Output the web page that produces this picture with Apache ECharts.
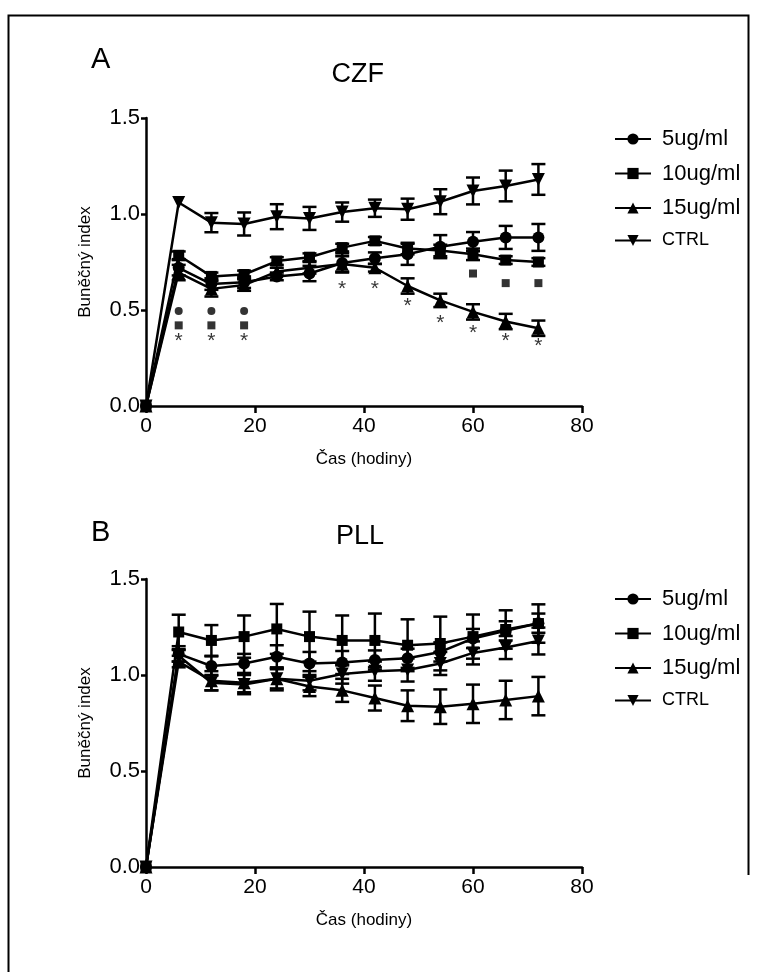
<!DOCTYPE html>
<html>
<head>
<meta charset="utf-8">
<script src="https://cdn.jsdelivr.net/npm/echarts@6/dist/echarts.min.js"></script>
<style>
  html, body { margin: 0; padding: 0; background: #fff; }
  #chart-container { width: 768px; height: 972px; }
</style>
</head>
<body>
<div id="chart-container"></div>
<script>
// casy mereni (hodiny)
var hours = [0, 6, 12, 18, 24, 30, 36, 42, 48, 54, 60, 66, 72];
var seriesNames = ['5ug/ml', '10ug/ml', '15ug/ml', 'CTRL'];
var xTicks = [0, 20, 40, 60, 80];
var yTicks = [0, 0.5, 1.0, 1.5];

// A - CZF
var czf5 = [0, 0.72, 0.635, 0.645, 0.675, 0.69, 0.745, 0.77, 0.79, 0.83, 0.856, 0.878, 0.878];
var czf10 = [0, 0.785, 0.675, 0.685, 0.755, 0.775, 0.825, 0.86, 0.82, 0.81, 0.79, 0.76, 0.75];
var czf15 = [0, 0.695, 0.61, 0.63, 0.70, 0.72, 0.74, 0.72, 0.625, 0.55, 0.49, 0.44, 0.405];
var czfCtrl = [0, 1.06, 0.955, 0.948, 0.986, 0.977, 1.01, 1.03, 1.025, 1.064, 1.12, 1.146, 1.18];
var czf5Err = [0, 0.04, 0.03, 0.03, 0.02, 0.04, 0.05, 0.03, 0.055, 0.06, 0.05, 0.06, 0.07];
var czf10Err = [0, 0.02, 0.02, 0.02, 0.02, 0.02, 0.02, 0.02, 0.03, 0.03, 0.03, 0.02, 0.02];
var czf15Err = [0, 0.04, 0.04, 0.03, 0.02, 0.03, 0.04, 0.02, 0.04, 0.035, 0.04, 0.04, 0.04];
var czfCtrlErr = [0, 0, 0.05, 0.06, 0.065, 0.06, 0.05, 0.045, 0.055, 0.065, 0.07, 0.08, 0.08];

// znacky signifikance (A)
var sigDotX = [6, 12, 18];
var sigDotY = [0.495, 0.495, 0.495];
var sigSquareX = [6, 12, 18, 60, 66, 72];
var sigSquareY = [0.42, 0.42, 0.42, 0.69, 0.64, 0.64];
var sigStarX = [6, 12, 18, 36, 42, 48, 54, 60, 66, 72];
var sigStarY = [0.36, 0.36, 0.36, 0.63, 0.63, 0.54, 0.45, 0.40, 0.36, 0.33];

// B - PLL
var pll5 = [0, 1.11, 1.047, 1.06, 1.095, 1.06, 1.065, 1.078, 1.087, 1.12, 1.19, 1.23, 1.27];
var pll10 = [0, 1.224, 1.18, 1.20, 1.24, 1.20, 1.18, 1.18, 1.155, 1.164, 1.20, 1.237, 1.268];
var pll15 = [0, 1.07, 0.97, 0.96, 0.98, 0.94, 0.92, 0.88, 0.84, 0.835, 0.85, 0.87, 0.89];
var pllCtrl = [0, 1.10, 0.96, 0.95, 0.98, 0.97, 1.005, 1.02, 1.026, 1.06, 1.115, 1.143, 1.177];
var pll5Err = [0, 0.04, 0.05, 0.05, 0.06, 0.06, 0.06, 0.05, 0.05, 0.05, 0.05, 0.05, 0.05];
var pll10Err = [0, 0.09, 0.08, 0.11, 0.13, 0.13, 0.13, 0.14, 0.135, 0.14, 0.115, 0.1, 0.1];
var pll15Err = [0, 0.03, 0.05, 0.05, 0.05, 0.05, 0.06, 0.065, 0.08, 0.09, 0.1, 0.1, 0.1];
var pllCtrlErr = [0, 0.03, 0.04, 0.05, 0.06, 0.05, 0.05, 0.05, 0.06, 0.06, 0.06, 0.06, 0.07];

var FONT = 'Liberation Sans, Arial, sans-serif';
var symbols = ['circle', 'rect', 'triangle', 'triangle'];
var rotations = [0, 0, 0, 180];
var sizes = [12, 11, 13, 13];

var dom = document.getElementById('chart-container');
var myChart = echarts.init(dom, null, { renderer: 'canvas' });

function pairs(xs, ys) {
  return xs.map(function (x, i) { return [x, ys[i]]; });
}

function errData(means, errs) {
  var out = [];
  hours.forEach(function (h, i) {
    if (errs[i] > 0) out.push([h, means[i] - errs[i], means[i] + errs[i]]);
  });
  return out;
}

function renderErr(params, api) {
  var x = api.value(0);
  var top = api.coord([x, api.value(2)]);
  var bot = api.coord([x, api.value(1)]);
  var w = 7;
  var st = { stroke: '#000', lineWidth: 2.5 };
  return {
    type: 'group',
    children: [
      { type: 'line', shape: { x1: top[0], y1: top[1], x2: bot[0], y2: bot[1] }, style: st },
      { type: 'line', shape: { x1: top[0] - w, y1: top[1], x2: top[0] + w, y2: top[1] }, style: st },
      { type: 'line', shape: { x1: bot[0] - w, y1: bot[1], x2: bot[0] + w, y2: bot[1] }, style: st }
    ]
  };
}

function lineSeries(idx, name, values) {
  var k = seriesNames.indexOf(name);
  return {
    name: name,
    type: 'line',
    xAxisIndex: idx,
    yAxisIndex: idx,
    data: pairs(hours, values),
    symbol: symbols[k],
    symbolRotate: rotations[k],
    symbolSize: sizes[k],
    showAllSymbol: true,
    color: '#000',
    lineStyle: { color: '#000', width: 2.5 },
    itemStyle: { color: '#000' },
    animation: false,
    z: 3
  };
}

// chybove useky - bez jmena, aby nezasahovaly do legendy
function errSeries(idx, values, errs) {
  return {
    type: 'custom',
    xAxisIndex: idx,
    yAxisIndex: idx,
    data: errData(values, errs),
    renderItem: renderErr,
    encode: { x: 0, y: [1, 2] },
    itemStyle: { color: '#000' },
    silent: true,
    animation: false,
    z: 2
  };
}

function sigSeries(xs, ys, symbol, size, isStar) {
  return {
    type: 'scatter',
    xAxisIndex: 0,
    yAxisIndex: 0,
    data: pairs(xs, ys),
    symbol: symbol,
    symbolSize: isStar ? 1 : size,
    itemStyle: { color: isStar ? 'rgba(0,0,0,0)' : '#000' },
    label: isStar ? {
      show: true,
      position: 'inside',
      formatter: '*',
      color: '#000',
      fontSize: 21,
      fontFamily: FONT,
      offset: [0, 4]
    } : { show: false },
    silent: true,
    animation: false,
    z: 4
  };
}

function makeGrid(top) {
  return { left: 146, width: 436, top: top, height: 288 };
}

function makeX(idx) {
  return {
    type: 'value',
    gridIndex: idx,
    min: xTicks[0],
    max: xTicks[xTicks.length - 1],
    interval: 20,
    name: 'Čas (hodiny)',
    nameLocation: 'middle',
    nameGap: 45,
    nameTextStyle: { color: '#000', fontSize: 17, fontFamily: FONT },
    axisLine: { lineStyle: { color: '#000', width: 2.5 } },
    axisTick: { length: 7, lineStyle: { color: '#000', width: 2.5 } },
    axisLabel: { color: '#000', fontSize: 21, fontFamily: FONT, margin: 10 },
    splitLine: { show: false }
  };
}

function makeY(idx) {
  return {
    type: 'value',
    gridIndex: idx,
    min: yTicks[0],
    max: yTicks[yTicks.length - 1],
    interval: 0.5,
    name: 'Buněčný index',
    nameLocation: 'middle',
    nameRotate: 90,
    nameGap: 52,
    nameTextStyle: { color: '#000', fontSize: 17, fontFamily: FONT },
    axisLine: { show: true, lineStyle: { color: '#000', width: 2.5 } },
    axisTick: { show: true, length: 5, lineStyle: { color: '#000', width: 2.5 } },
    axisLabel: {
      color: '#000', fontSize: 22, fontFamily: FONT, margin: 6,
      formatter: function (v) { return v.toFixed(1); }
    },
    splitLine: { show: false }
  };
}

function makeLegend(top) {
  return {
    orient: 'vertical',
    left: 609,
    top: top,
    data: seriesNames,
    itemWidth: 36,
    itemHeight: 14,
    itemGap: 12.5,
    selectedMode: false,
    formatter: function (name) {
      return name === 'CTRL' ? '{s|' + name + '}' : '{b|' + name + '}';
    },
    textStyle: {
      color: '#000',
      fontFamily: FONT,
      padding: [0, 0, 0, 6],
      rich: {
        b: { fontSize: 22, fontFamily: FONT, color: '#000', lineHeight: 25 },
        s: { fontSize: 18, fontFamily: FONT, color: '#000', lineHeight: 25 }
      }
    }
  };
}

var titleStyle = { color: '#000', fontFamily: FONT, fontWeight: 'normal' };

var option = {
  backgroundColor: '#fff',
  animation: false,
  title: [
    { text: 'A', left: 86, top: 40, textStyle: Object.assign({ fontSize: 29 }, titleStyle) },
    { text: 'CZF', left: 'center', top: 56, textStyle: Object.assign({ fontSize: 27 }, titleStyle), textAlign: 'center' },
    { text: 'B', left: 86, top: 513, textStyle: Object.assign({ fontSize: 29 }, titleStyle) },
    { text: 'PLL', left: 'center', top: 518, textStyle: Object.assign({ fontSize: 27 }, titleStyle), textAlign: 'center' }
  ],
  graphic: [
    {
      type: 'polyline',
      shape: { points: [[8.5, 972], [8.5, 15.5], [748.5, 15.5], [748.5, 875]] },
      style: { stroke: '#000', lineWidth: 2, fill: null },
      silent: true
    }
  ],
  legend: [makeLegend(123), makeLegend(583)],
  grid: [makeGrid(118), makeGrid(579)],
  xAxis: [makeX(0), makeX(1)],
  yAxis: [makeY(0), makeY(1)],
  series: [
    errSeries(0, czf5, czf5Err),
    errSeries(0, czf10, czf10Err),
    errSeries(0, czf15, czf15Err),
    errSeries(0, czfCtrl, czfCtrlErr),
    lineSeries(0, '5ug/ml', czf5),
    lineSeries(0, '10ug/ml', czf10),
    lineSeries(0, '15ug/ml', czf15),
    lineSeries(0, 'CTRL', czfCtrl),
    sigSeries(sigDotX, sigDotY, 'circle', 8, false),
    sigSeries(sigSquareX, sigSquareY, 'rect', 8, false),
    sigSeries(sigStarX, sigStarY, 'circle', 1, true),
    errSeries(1, pll5, pll5Err),
    errSeries(1, pll10, pll10Err),
    errSeries(1, pll15, pll15Err),
    errSeries(1, pllCtrl, pllCtrlErr),
    lineSeries(1, '5ug/ml', pll5),
    lineSeries(1, '10ug/ml', pll10),
    lineSeries(1, '15ug/ml', pll15),
    lineSeries(1, 'CTRL', pllCtrl)
  ]
};

if (option && typeof option === 'object') {
  myChart.setOption(option);
}

window.addEventListener('resize', myChart.resize);
</script>
</body>
</html>
